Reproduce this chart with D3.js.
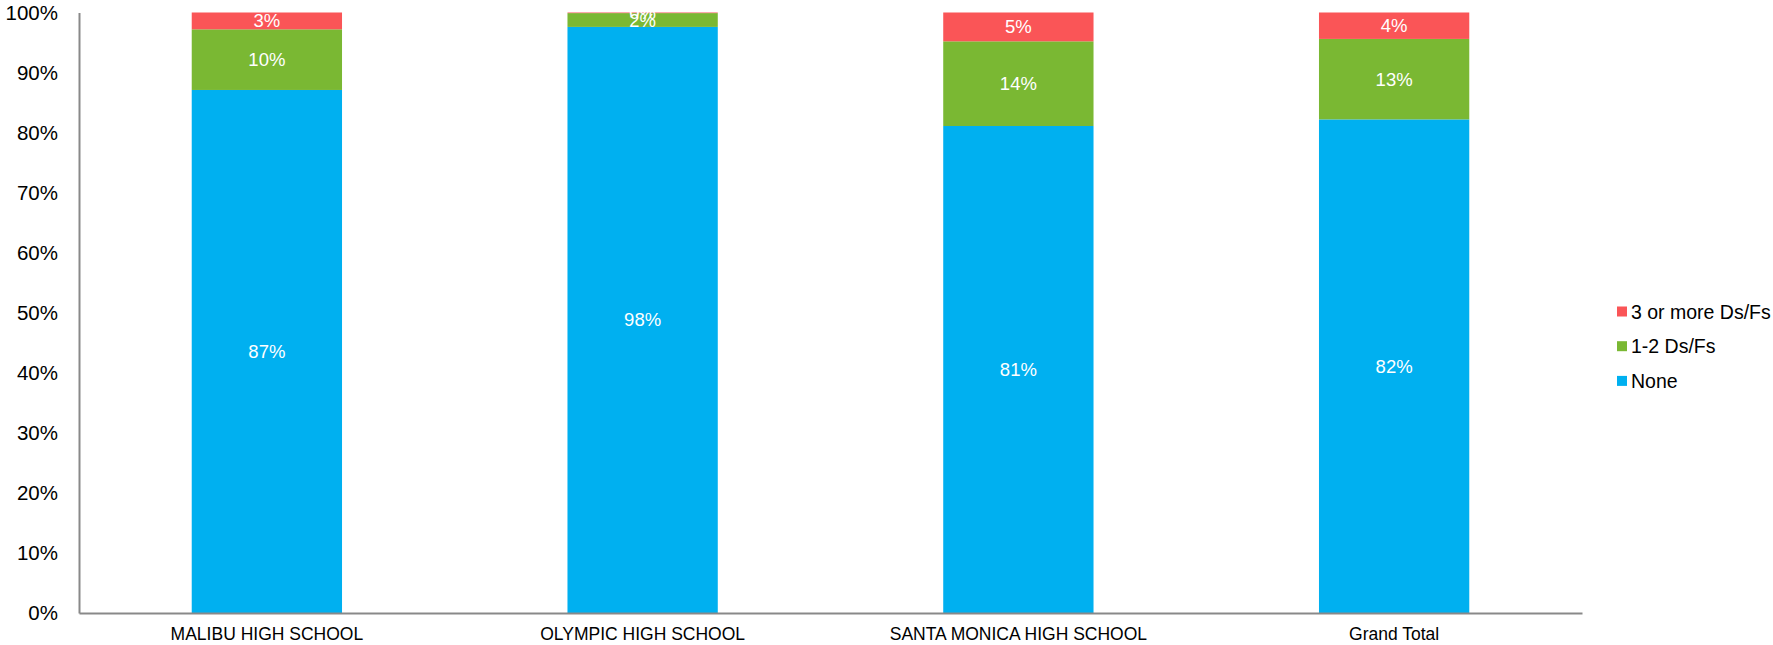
<!DOCTYPE html>
<html>
<head>
<meta charset="utf-8">
<script src="https://cdn.jsdelivr.net/npm/d3@7"></script>
<style>
  html, body { margin: 0; padding: 0; background: #fff; }
  svg { display: block; font-family: "Liberation Sans", Arial, sans-serif; }
</style>
</head>
<body>
<svg id="chart" width="1773" height="645"></svg>
<script>
const categories = ["MALIBU HIGH SCHOOL", "OLYMPIC HIGH SCHOOL", "SANTA MONICA HIGH SCHOOL", "Grand Total"];
const seriesNames = ["None", "1-2 Ds/Fs", "3 or more Ds/Fs"];
const noneValues = [0.871, 0.976, 0.811, 0.822];
const oneTwoValues = [0.101, 0.023, 0.141, 0.134];
const threePlusValues = [0.028, 0.001, 0.048, 0.044];
const colors = ["#00B0F0", "#7AB833", "#FA5557"];
const yTicks = [0, 0.1, 0.2, 0.3, 0.4, 0.5, 0.6, 0.7, 0.8, 0.9, 1.0];

const svg = d3.select("#chart");
const plotLeft = 79, plotRight = 1582, plotTop = 12.5, plotBottom = 613;

const x = d3.scaleBand().domain(categories).range([plotLeft, plotRight]).paddingInner(0.6).paddingOuter(0.3);
const y = d3.scaleLinear().domain([0, 1]).range([plotBottom, plotTop]);

const table = categories.map((c, i) => ({
  cat: c, "None": noneValues[i], "1-2 Ds/Fs": oneTwoValues[i], "3 or more Ds/Fs": threePlusValues[i]
}));
const stacked = d3.stack().keys(seriesNames)(table);

const g = svg.append("g");
stacked.forEach((s, si) => {
  const layer = g.append("g").attr("fill", colors[si]);
  layer.selectAll("rect").data(s).join("rect")
    .attr("x", d => x(d.data.cat))
    .attr("width", x.bandwidth())
    .attr("y", d => y(d[1]))
    .attr("height", d => y(d[0]) - y(d[1]));
});
// data labels
stacked.forEach((s, si) => {
  g.append("g").selectAll("text").data(s).join("text")
    .attr("x", d => x(d.data.cat) + x.bandwidth() / 2)
    .attr("y", d => (y(d[0]) + y(d[1])) / 2)
    .attr("text-anchor", "middle")
    .attr("dominant-baseline", "central")
    .attr("fill", "#fff")
    .attr("font-size", "18.5px")
    .text(d => Math.round((d[1] - d[0]) * 100) + "%");
});

// y axis
const yAxis = svg.append("g").attr("transform", `translate(${plotLeft},0)`)
  .call(d3.axisLeft(y).tickValues(yTicks).tickSize(0).tickPadding(21).tickFormat(d3.format(".0%")));
yAxis.select(".domain").attr("stroke", "#898989").attr("stroke-width", 2);
yAxis.selectAll("text").attr("font-size", "20.5px").attr("fill", "#000")
  .attr("font-family", "Liberation Sans, Arial, sans-serif");

// x axis
const xAxis = svg.append("g").attr("transform", `translate(0,${plotBottom})`)
  .call(d3.axisBottom(x).tickSize(0).tickPadding(15));
xAxis.select(".domain").attr("stroke", "#898989").attr("stroke-width", 2);
xAxis.selectAll("text").attr("font-size", "17.5px").attr("fill", "#000")
  .attr("font-family", "Liberation Sans, Arial, sans-serif");

// legend
const legendItems = seriesNames.slice().reverse();
const legendColors = colors.slice().reverse();
const legend = svg.append("g");
legendItems.forEach((name, i) => {
  const cy = 311.5 + i * 34.7;
  legend.append("rect").attr("x", 1617).attr("y", cy - 5).attr("width", 10).attr("height", 10).attr("fill", legendColors[i]);
  legend.append("text").attr("x", 1631).attr("y", cy).attr("dominant-baseline", "central")
    .attr("font-size", "19.5px").attr("fill", "#000").text(name);
});
</script>
</body>
</html>
